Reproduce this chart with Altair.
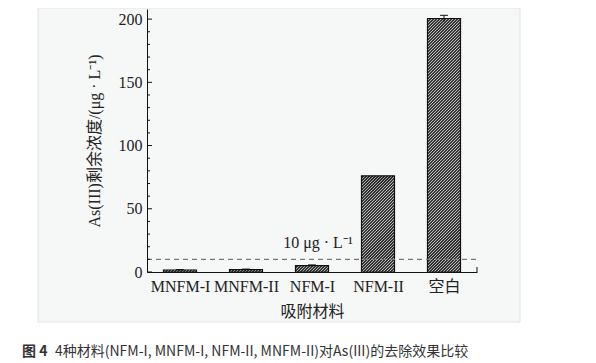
import json
import numpy as np
import pandas as pd
import altair as alt

# ---- data ----
categories = ["MNFM-I", "MNFM-II", "NFM-I", "NFM-II", "空白"]
values = [1.6, 1.8, 5.0, 76.0, 200.5]
errors = [0.3, 0.5, 0.6, 0.0, 2.5]
limit_value = 10
limit_label = "10 μg · L⁻¹"
major_ticks = [0, 50, 100, 150, 200]
minor_ticks = [v for v in range(10, 210, 10) if v % 50 != 0]
y_title = "As(III)剩余浓度/(μg · L⁻¹)"
x_title = "吸附材料"
caption_bold = "图 4"
caption_text = "4种材料(NFM-I, MNFM-I, NFM-II, MNFM-II)对As(III)的去除效果比较"

# ---- layout / style ----
W, H = 330, 263
YMAX = 208
XMIN, XMAX = -0.5, len(categories) - 0.5
HALF = 0.25
SERIF = "Liberation Serif, Noto Sans CJK SC"
SANS = "Noto Sans CJK SC"

xs = alt.Scale(domain=[XMIN, XMAX], nice=False, zero=False)
ys = alt.Scale(domain=[0, YMAX], nice=False)

bars = pd.DataFrame({
    "i": list(range(len(categories))),
    "cat": categories,
    "v": values,
    "e": errors,
})
bars["x0"] = bars["i"] - HALF
bars["x1"] = bars["i"] + HALF
bars["lo"] = bars["v"] - bars["e"]
bars["hi"] = bars["v"] + bars["e"]
bars["c0"] = bars["i"] - 0.06
bars["c1"] = bars["i"] + 0.06
errbars = bars[bars["e"] > 0]

# hatch segments (45° in pixel space) derived from the bar values
kx = W / (XMAX - XMIN)
ky = H / YMAX
rows = []
for i, v in enumerate(values):
    w = 2 * HALF * kx
    h = v * ky
    step = 3.0
    c = -w + 1.0
    while c < h:
        u0 = max(0.0, -c)
        u1 = min(w, h - c)
        if u1 > u0:
            rows.append({
                "xa": i - HALF + u0 / kx, "ya": (u0 + c) / ky,
                "xb": i - HALF + u1 / kx, "yb": (u1 + c) / ky,
            })
        c += step
hatch = pd.DataFrame(rows)

labels_js = json.dumps(categories, ensure_ascii=False)

one = alt.Data(values=[{}])

panel = alt.Chart(one).mark_rect(fill="#f6f7f7", stroke="#dfe5e5", strokeWidth=1).encode(
    x=alt.value(-109), x2=alt.value(373), y=alt.value(-1), y2=alt.value(313)
)

base = alt.Chart(bars)

bar_fill = base.mark_rect(fill="#eeeeee").encode(
    x=alt.X("x0:Q", scale=xs,
            axis=alt.Axis(values=list(range(len(categories))),
                          labelExpr=f"{labels_js}[datum.value]",
                          ticks=False, grid=False, domainColor="#111", domainWidth=1,
                          labelFont=SERIF, labelFontSize=16, labelColor="#222",
                          labelPadding=6, title=x_title, titleFont=SERIF,
                          titleFontSize=16, titleFontWeight="normal", titleColor="#222",
                          titlePadding=9, zindex=2)),
    x2="x1:Q",
    y=alt.Y("v:Q", scale=ys,
            axis=alt.Axis(values=major_ticks, ticks=False, grid=False,
                          domainColor="#111", domainWidth=1,
                          labelFont=SERIF, labelFontSize=16, labelColor="#222",
                          labelPadding=5, title=y_title, titleFont=SERIF,
                          titleFontSize=16, titleFontWeight="normal", titleColor="#222",
                          titlePadding=16, zindex=2)),
    y2=alt.datum(0),
)

hatch_lines = alt.Chart(hatch).mark_rule(color="#1e1e1e", strokeWidth=1.5).encode(
    x=alt.X("xa:Q", scale=xs), y=alt.Y("ya:Q", scale=ys), x2="xb:Q", y2="yb:Q"
)

bar_outline = base.mark_rect(fill=None, stroke="#111", strokeWidth=1.2).encode(
    x=alt.X("x0:Q", scale=xs), x2="x1:Q", y=alt.Y("v:Q", scale=ys), y2=alt.datum(0)
)

err = alt.Chart(errbars).mark_rule(color="#111", strokeWidth=1).encode(
    x=alt.X("i:Q", scale=xs), y=alt.Y("lo:Q", scale=ys), y2="hi:Q"
)
cap_hi = alt.Chart(errbars).mark_rule(color="#111", strokeWidth=1).encode(
    x=alt.X("c0:Q", scale=xs), x2="c1:Q", y=alt.Y("hi:Q", scale=ys)
)

limit_df = pd.DataFrame({"y": [limit_value], "tx": [2.09], "ty": [23], "t": [limit_label]})
limit_line = alt.Chart(limit_df).mark_rule(color="#777", strokeWidth=1.2, strokeDash=[5, 4]).encode(
    y=alt.Y("y:Q", scale=ys), x=alt.value(0), x2=alt.value(W + 3)
)
limit_text = alt.Chart(limit_df).mark_text(font=SERIF, fontSize=16, color="#222",
                                           baseline="middle", align="center").encode(
    x=alt.X("tx:Q", scale=xs), y=alt.Y("ty:Q", scale=ys), text="t:N"
)

maj = alt.Chart(pd.DataFrame({"t": major_ticks})).mark_rule(color="#111", strokeWidth=1).encode(
    y=alt.Y("t:Q", scale=ys), x=alt.value(0), x2=alt.value(5)
)
mnr = alt.Chart(pd.DataFrame({"t": minor_ticks})).mark_rule(color="#111", strokeWidth=1).encode(
    y=alt.Y("t:Q", scale=ys), x=alt.value(0), x2=alt.value(3)
)
end_tick = alt.Chart(pd.DataFrame({"t": [XMAX]})).mark_rule(color="#111", strokeWidth=1).encode(
    x=alt.X("t:Q", scale=xs), y=alt.value(H), y2=alt.value(H - 5)
)

cap1 = alt.Chart(one).mark_text(font=SANS, fontSize=14, fontWeight="bold", color="#333",
                                align="left", baseline="middle").encode(
    x=alt.value(-125), y=alt.value(343), text=alt.value(caption_bold)
)
cap2 = alt.Chart(one).mark_text(font=SANS, fontSize=14, color="#333",
                                align="left", baseline="middle").encode(
    x=alt.value(-92), y=alt.value(343), text=alt.value(caption_text)
)

chart = alt.layer(
    panel, bar_fill, hatch_lines, bar_outline, err, cap_hi,
    limit_line, limit_text, maj, mnr, end_tick, cap1, cap2
).properties(
    width=W, height=H,
    autosize=alt.AutoSizeParams(type="none"),
    padding={"left": 139, "top": 1, "right": 111, "bottom": 88},
    background="white",
).configure_view(stroke=None)

chart.save("out.html", embed_options={"renderer": "svg", "actions": False})
